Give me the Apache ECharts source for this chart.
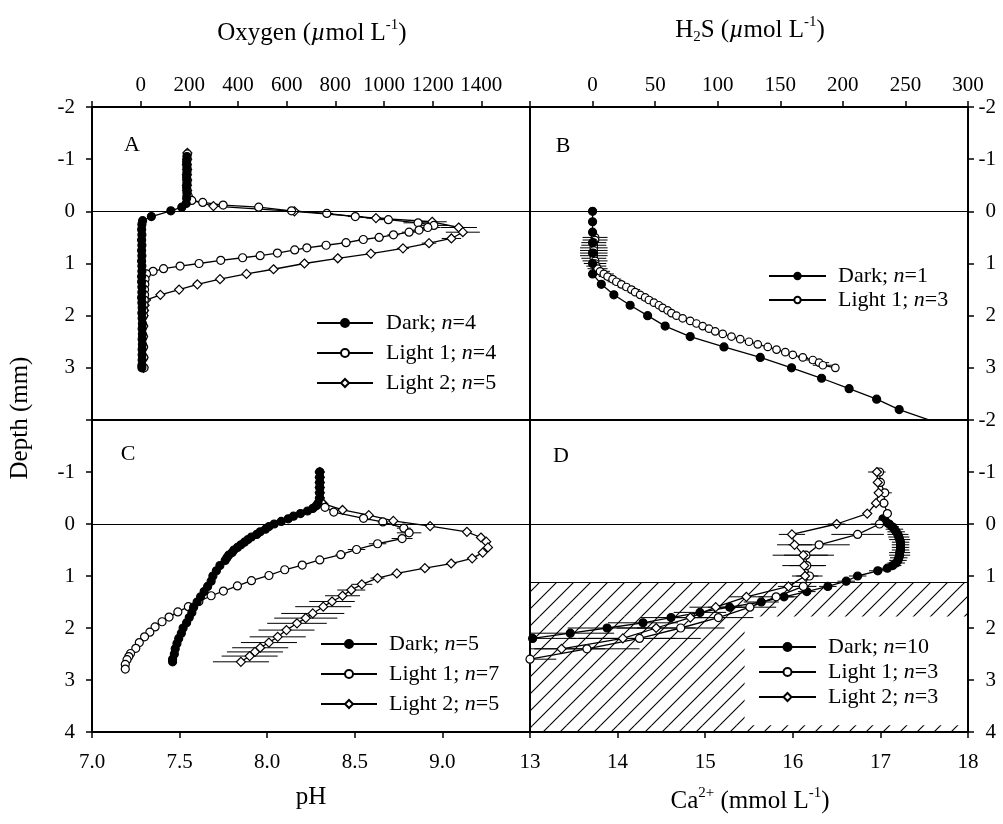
<!DOCTYPE html>
<html><head><meta charset="utf-8">
<script src="https://cdn.jsdelivr.net/npm/echarts@6/dist/echarts.min.js"></script>
<style>html,body{margin:0;padding:0;background:#fff}#c{width:1003px;height:824px}</style>
</head><body><div id="c"></div>
<script>
// ---------- DATA: rows are [depth (mm), value, horizontal error] ----------
// Panel A: oxygen (umol L-1)
const aDark = [[-1.05,190,0],[-0.95,189,0],[-0.85,190,0],[-0.75,190,0],[-0.65,189,0],[-0.55,190,0],[-0.45,189,0],[-0.35,190,0],[-0.25,189,0],[-0.15,187,0],[-0.08,169,0],[-0.01,124,0],[0.1,44,0],[0.18,8,0],
 [0.25,5,8],[0.35,4,8],[0.45,5,8],[0.55,4,8],[0.65,5,8],[0.75,4,8],[0.85,5,8],[0.95,4,8],[1.05,5,8],[1.15,5,8],[1.25,4,8],[1.35,4,8],[1.45,5,8],[1.55,5,8],[1.65,4,8],[1.75,5,8],[1.85,6,8],[1.95,5,8],[2.05,6,8],[2.15,7,10],[2.25,6,10],[2.35,7,10],[2.45,6,10],[2.55,7,10],[2.65,6,10],[2.75,6,10],[2.85,6,10],[2.95,5,10],[3.0,5,8]];
const aLight1 = [[-1.1,192,0],[-1.0,191,0],[-0.9,190,0],[-0.8,191,0],[-0.7,190,0],[-0.6,191,0],[-0.5,190,0],[-0.4,191,0],[-0.3,195,0],[-0.21,210,10],[-0.17,255,10],[-0.12,339,10],[-0.08,485,15],[-0.01,620,20],[0.04,765,25],[0.10,882,30],[0.16,1018,50],[0.22,1140,60],[0.27,1205,60],[0.31,1180,50],[0.36,1144,40],[0.40,1103,30],[0.45,1039,25],[0.50,980,20],[0.54,915,20],[0.60,844,20],[0.65,762,20],[0.70,683,15],[0.74,633,15],[0.80,562,15],[0.85,491,15],[0.89,419,15],[0.94,329,15],[1.00,240,10],[1.05,162,10],[1.10,94,10],[1.15,51,10],[1.20,24,8],[1.3,18,8],[1.4,17,8],[1.5,16,8],[1.6,16,8],[1.7,15,8],[1.8,14,8],[1.9,13,8],[2.0,12,8],[2.2,11,8],[2.4,11,8],[2.6,12,8],[2.8,13,8],[3.0,14,8]];
const aLight2 = [[-1.12,192,0],[-1.0,191,0],[-0.9,190,0],[-0.8,191,0],[-0.7,190,0],[-0.6,191,0],[-0.5,190,0],[-0.4,191,0],[-0.3,192,0],[-0.22,203,10],[-0.1,299,15],[0.0,632,25],[0.13,967,40],[0.2,1198,60],[0.31,1307,75],[0.40,1324,70],[0.52,1277,40],[0.61,1185,30],[0.71,1078,25],[0.81,946,20],[0.9,810,20],[1.0,673,15],[1.11,546,15],[1.2,435,15],[1.3,326,12],[1.4,233,12],[1.5,158,10],[1.6,81,10],[1.7,22,8],[1.8,16,8],[1.9,14,8],[2.0,12,8],[2.2,11,8],[2.4,10,8],[2.6,10,8],[2.8,11,8],[3.0,11,8]];
// Panel B: H2S (umol L-1)
const bDark = [[0,0,0],[0.2,0,0],[0.4,0,0],[0.6,0,0],[0.8,0,0],[1.0,0,0],[1.2,0,0],[1.4,7,0],[1.6,17,0],[1.8,30,0],[2.0,44,0],[2.2,58,0],[2.4,78,0],[2.6,105,0],[2.8,134,0],[3.0,159,0],[3.2,183,0],[3.4,205,0],[3.6,227,0],[3.8,245,0],[4.05,275,0]];
const bLight1 = [[0.5,2,10],[0.55,2,10],[0.6,1,10],[0.65,1,10],[0.7,1,11],[0.75,1,11],[0.8,1,11],[0.85,1,11],[0.9,1,10],[0.95,2,10],[1.0,2,9],[1.05,3,8],[1.1,4,8],[1.15,6,8],[1.2,9,8],[1.25,12,7],[1.3,16,7],[1.35,19,7],[1.4,23,7],[1.45,27,7],[1.5,31,7],[1.55,34,6],[1.6,38,6],[1.65,42,6],[1.7,45,6],[1.75,49,6],[1.8,53,5],[1.85,56,5],[1.9,60,5],[1.95,63,5],[2.0,67,4],[2.05,72,3],[2.1,78,3],[2.15,83,3],[2.2,88,3],[2.25,93,3],[2.3,98,3],[2.35,104,3],[2.4,111,3],[2.45,118,3],[2.5,125,3],[2.55,132,3],[2.6,140,3],[2.65,147,3],[2.7,154,3],[2.75,160,3],[2.8,168,4],[2.85,176,6],[2.9,181,8],[2.95,184,8],[3.0,194,3]];
// Panel C: pH
const cDark = [[-1.0,8.30,0],[-0.9,8.30,0],[-0.8,8.30,0],[-0.7,8.30,0],[-0.6,8.30,0],[-0.5,8.30,0],[-0.4,8.29,0],[-0.35,8.28,0],[-0.3,8.26,0],[-0.25,8.23,0],[-0.2,8.19,0],[-0.15,8.15,0],[-0.1,8.12,0],[-0.05,8.08,0],[0.0,8.04,0],[0.05,8.01,0],[0.1,7.99,0],[0.15,7.96,0],[0.2,7.94,0],[0.25,7.91,0],[0.3,7.89,0],[0.35,7.87,0],[0.4,7.85,0],[0.45,7.83,0],[0.5,7.81,0],[0.55,7.80,0],[0.6,7.78,0],[0.65,7.77,0],[0.7,7.76,0],[0.8,7.73,0],[0.9,7.71,0],[1.0,7.69,0],[1.1,7.68,0],[1.2,7.66,0],[1.3,7.64,0],[1.4,7.62,0],[1.5,7.60,0],[1.6,7.58,0],[1.7,7.57,0],[1.8,7.555,0],[1.9,7.54,0],[2.0,7.52,0],[2.1,7.51,0],[2.2,7.495,0],[2.3,7.485,0],[2.4,7.475,0],[2.5,7.47,0],[2.6,7.46,0],[2.65,7.46,0]];
const cLight1 = [[-1.0,8.30,0],[-0.9,8.30,0],[-0.8,8.30,0],[-0.7,8.30,0],[-0.6,8.30,0],[-0.5,8.30,0],[-0.4,8.31,0],[-0.32,8.33,0],[-0.23,8.38,0.02],[-0.11,8.55,0.02],[-0.04,8.66,0.03],[0.08,8.78,0.04],[0.17,8.81,0.07],[0.28,8.77,0.06],[0.38,8.63,0.05],[0.49,8.51,0.05],[0.59,8.42,0.03],[0.69,8.30,0.02],[0.79,8.20,0.02],[0.88,8.10,0.02],[0.99,8.01,0.02],[1.09,7.91,0.02],[1.19,7.83,0.02],[1.29,7.75,0.02],[1.38,7.68,0.02],[1.49,7.61,0.02],[1.59,7.55,0],[1.69,7.49,0],[1.79,7.44,0],[1.88,7.40,0],[1.98,7.36,0],[2.08,7.33,0],[2.17,7.30,0],[2.28,7.27,0],[2.39,7.25,0],[2.49,7.22,0],[2.55,7.21,0],[2.61,7.20,0],[2.7,7.19,0],[2.79,7.19,0]];
const cLight2 = [[-1.0,8.30,0],[-0.9,8.30,0],[-0.8,8.30,0],[-0.7,8.30,0],[-0.6,8.30,0],[-0.5,8.30,0],[-0.39,8.32,0],[-0.27,8.43,0],[-0.17,8.58,0],[-0.06,8.72,0],[0.04,8.93,0],[0.15,9.14,0],[0.26,9.22,0.02],[0.34,9.25,0.02],[0.45,9.26,0.02],[0.55,9.23,0.02],[0.66,9.17,0.03],[0.76,9.05,0.03],[0.85,8.90,0.03],[0.95,8.74,0.03],[1.04,8.63,0.04],[1.16,8.54,0.06],[1.27,8.48,0.08],[1.38,8.43,0.1],[1.49,8.37,0.13],[1.59,8.32,0.16],[1.72,8.26,0.18],[1.81,8.22,0.18],[1.91,8.17,0.17],[2.04,8.11,0.16],[2.17,8.06,0.16],[2.28,8.01,0.16],[2.38,7.96,0.16],[2.46,7.93,0.16],[2.54,7.90,0.16],[2.65,7.85,0.16]];
// Panel D: Ca2+ (mmol L-1)
const dDark = [[-0.1,17.03,0.05],[-0.05,17.06,0.06],[0.0,17.10,0.08],[0.05,17.13,0.08],[0.1,17.16,0.1],[0.15,17.18,0.1],[0.2,17.20,0.12],[0.25,17.21,0.12],[0.3,17.22,0.12],[0.35,17.23,0.1],[0.4,17.23,0.1],[0.45,17.23,0.1],[0.5,17.23,0.1],[0.55,17.22,0.12],[0.6,17.22,0.12],[0.65,17.21,0.1],[0.7,17.20,0.1],[0.75,17.18,0.1],[0.8,17.14,0.1],[0.85,17.08,0.1],[0.9,16.97,0.1],[1.0,16.74,0.1],[1.1,16.61,0.1],[1.2,16.40,0.1],[1.3,16.16,0.1],[1.4,15.90,0.15],[1.5,15.64,0.2],[1.6,15.28,0.25],[1.7,14.94,0.3],[1.8,14.61,0.35],[1.9,14.29,0.4],[2.0,13.88,0.45],[2.1,13.46,0.5],[2.2,13.03,0.5]];
const dLight1 = [[-1.0,16.99,0.05],[-0.8,17.0,0.05],[-0.6,17.05,0.08],[-0.4,17.04,0.05],[-0.2,17.08,0.05],[0.0,16.99,0.1],[0.2,16.74,0.3],[0.4,16.30,0.35],[0.6,16.15,0.25],[0.8,16.16,0.2],[1.0,16.19,0.15],[1.2,16.12,0.15],[1.4,15.81,0.2],[1.6,15.51,0.3],[1.8,15.15,0.4],[2.0,14.72,0.5],[2.2,14.25,0.7],[2.4,13.65,0.6],[2.6,13.0,0.3]];
const dLight2 = [[-1.0,16.96,0.1],[-0.8,16.97,0.05],[-0.6,16.98,0.05],[-0.4,16.95,0.05],[-0.2,16.85,0.05],[0.0,16.50,0.1],[0.2,15.99,0.15],[0.4,16.02,0.2],[0.6,16.12,0.35],[0.8,16.13,0.25],[1.0,16.14,0.15],[1.2,15.95,0.12],[1.4,15.47,0.2],[1.6,15.12,0.3],[1.8,14.83,0.4],[2.0,14.44,0.45],[2.2,14.06,0.6],[2.4,13.36,0.5]];
// Hatched (sediment) region in D: [depth top, depth legend-top, Ca at legend-left, depth legend-bottom]
const dHatch = [1.12, 1.78, 15.45, 3.87];
const legendA = ['Dark; n=4','Light 1; n=4','Light 2; n=5'];
const legendB = ['Dark; n=1','Light 1; n=3'];
const legendC = ['Dark; n=5','Light 1; n=7','Light 2; n=5'];
const legendD = ['Dark; n=10','Light 1; n=3','Light 2; n=3'];

// ---------- CHART ----------
const FONT = 'Liberation Serif';
const chart = echarts.init(document.getElementById('c'), null, {renderer:'canvas'});

const hc = document.createElement('canvas'); hc.width = 17; hc.height = 17;
const hg = hc.getContext('2d'); hg.strokeStyle = '#000'; hg.lineWidth = 1.1;
hg.beginPath(); hg.moveTo(0,17); hg.lineTo(17,0); hg.moveTo(-2,2); hg.lineTo(2,-2); hg.moveTo(15,19); hg.lineTo(19,15); hg.stroke();
const hatch = {image: hc, repeat: 'repeat'};

function lineS(name, arr, i, sym, size, fill, extra) {
  return Object.assign({
    name, type:'line', xAxisIndex:i, yAxisIndex:i,
    data: arr.map(r => [r[1], r[0]]),
    symbol: sym, symbolSize: size, showSymbol:true, showAllSymbol:true,
    lineStyle:{color:'#000', width:1.3},
    itemStyle:{color: fill, borderColor:'#000', borderWidth:1.2},
    emphasis:{disabled:true}, clip:true, z:3
  }, extra || {});
}
function errS(arr, i) {
  return {
    type:'custom', xAxisIndex:i, yAxisIndex:i, clip:true, silent:true, z:2,
    data: arr.filter(r => r[2] > 0).map(r => [r[1], r[0], r[2]]),
    renderItem: (p, api) => {
      const v = api.value(0), d = api.value(1), e = api.value(2);
      const a = api.coord([v - e, d]), b = api.coord([v + e, d]);
      return {type:'line', shape:{x1:a[0], y1:a[1], x2:b[0], y2:b[1]}, style:{stroke:'#000', lineWidth:1}};
    }
  };
}
function zeroLine(depths) {
  return {silent:true, symbol:['none','none'], label:{show:false}, animation:false,
    lineStyle:{color:'#000', width:1, type:'solid'}, data: depths.map(d => ({yAxis:d}))};
}
function axis(extra, label) {
  return Object.assign({
    type:'value', axisLine:{show:false, onZero:false}, splitLine:{show:false},
    axisTick:{show:true, length:6, lineStyle:{color:'#000', width:1.5}},
    axisLabel:Object.assign({fontFamily:FONT, fontSize:21, color:'#000'}, label)
  }, extra);
}
function legendCfg(names, left, top, gap, w, h, pad) {
  return {data:names, orient:'vertical', left, top, itemGap:gap, itemWidth:w, itemHeight:h,
    padding:0, selectedMode:false,
    formatter: n => n.replace('n=', '{i|n}='),
    textStyle:{fontFamily:FONT, fontSize:22, color:'#000', padding:[0,0,0,pad],
      rich:{i:{fontStyle:'italic', fontFamily:FONT, fontSize:22, color:'#000'}}}};
}
const grid = (l, t, h) => ({left:l, top:t, width:438, height:h, show:true, borderColor:'#000', borderWidth:2, containLabel:false});
const hideVals = (list, fmt) => v => list.some(x => Math.abs(x - v) < 1e-6) ? '' : (fmt ? fmt(v) : String(v));

const tok = {fontFamily:FONT, fontSize:25, fill:'#000', lineHeight:30};
const richT = {
  t: tok,
  i: Object.assign({}, tok, {fontStyle:'italic'}),
  sup: {fontFamily:FONT, fontSize:15, fill:'#000', verticalAlign:'top', lineHeight:30},
  sub: {fontFamily:FONT, fontSize:15, fill:'#000', verticalAlign:'bottom', lineHeight:30}
};
function txt(x, y, text, size, rot) {
  return {type:'text', x, y, rotation: rot || 0, silent:true,
    style:{text, fontFamily:FONT, fontSize:size, fill:'#000', align:'center', verticalAlign:'middle', rich:richT}};
}

const option = {
  animation:false,
  backgroundColor:'#fff',
  grid:[grid(92,107,313), grid(530,107,313), grid(92,420,312), grid(530,420,312)],
  xAxis:[
    axis({gridIndex:0, position:'top', min:-200, max:1600, interval:200}, {margin:11, formatter:hideVals([-200,1600])}),
    axis({gridIndex:1, position:'top', min:-50, max:300, interval:50}, {margin:11, formatter:hideVals([-50])}),
    axis({gridIndex:2, position:'bottom', min:7, max:9.5, interval:0.5}, {margin:20, formatter:hideVals([9.5], v => v.toFixed(1))}),
    axis({gridIndex:3, position:'bottom', min:13, max:18, interval:1}, {margin:20})
  ],
  yAxis:[
    axis({gridIndex:0, position:'left', inverse:true, min:-2, max:4, interval:1}, {margin:17, formatter:hideVals([4])}),
    axis({gridIndex:1, position:'right', inverse:true, min:-2, max:4, interval:1}, {margin:28, align:'right', formatter:hideVals([4])}),
    axis({gridIndex:2, position:'left', inverse:true, min:-2, max:4, interval:1}, {margin:17, formatter:hideVals([-2])}),
    axis({gridIndex:3, position:'right', inverse:true, min:-2, max:4, interval:1}, {margin:28, align:'right'})
  ],
  legend:[
    legendCfg(legendA, 316, 312, 8, 56, 10, 8),
    legendCfg(legendB, 768, 265, 2, 57, 8, 7),
    legendCfg(legendC, 320, 633, 8, 56, 10, 7),
    legendCfg(legendD, 758, 636, 3, 57, 10, 7)
  ],
  graphic:[
    txt(312, 33, '{t|Oxygen (}{i|\u00b5}{t|mol L}{sup|-1}{t|)}', 25),
    txt(750, 30, '{t|H}{sub|2}{t|S (}{i|\u00b5}{t|mol L}{sup|-1}{t|)}', 25),
    txt(311, 797, '{t|pH}', 25),
    txt(750, 801, '{t|Ca}{sup|2+}{t| (mmol L}{sup|-1}{t|)}', 25),
    txt(20, 418, '{t|Depth (mm)}', 25, Math.PI/2),
    txt(132, 145, 'A', 22), txt(563, 146, 'B', 22), txt(128, 454, 'C', 22), txt(561, 456, 'D', 22)
  ],
  series:[
    errS(aDark,0), errS(aLight1,0), errS(aLight2,0),
    lineS(legendA[2], aLight2, 0, 'diamond', 9, '#fff'),
    lineS(legendA[1], aLight1, 0, 'circle', 8, '#fff'),
    lineS(legendA[0], aDark, 0, 'circle', 8, '#000', {markLine: zeroLine([0])}),

    errS(bLight1,1),
    lineS(legendB[1], bLight1, 1, 'circle', 7.5, '#fff'),
    lineS(legendB[0], bDark, 1, 'circle', 8, '#000', {markLine: zeroLine([0])}),

    errS(cLight1,2), errS(cLight2,2),
    lineS(legendC[2], cLight2, 2, 'diamond', 9, '#fff'),
    lineS(legendC[1], cLight1, 2, 'circle', 8, '#fff'),
    lineS(legendC[0], cDark, 2, 'circle', 8, '#000', {markLine: zeroLine([0])}),

    errS(dDark,3), errS(dLight1,3), errS(dLight2,3),
    lineS(legendD[0], dDark, 3, 'circle', 8, '#000', {
      markLine: zeroLine([0, dHatch[0]]),
      markArea: {silent:true, itemStyle:{color:hatch, borderWidth:0}, label:{show:false},
        data:[
          [{xAxis:13, yAxis:dHatch[0]}, {xAxis:18, yAxis:dHatch[1]}],
          [{xAxis:13, yAxis:dHatch[1]}, {xAxis:dHatch[2], yAxis:dHatch[3]}],
          [{xAxis:13, yAxis:dHatch[3]}, {xAxis:18, yAxis:4}]
        ]}
    }),
    lineS(legendD[1], dLight1, 3, 'circle', 8, '#fff'),
    lineS(legendD[2], dLight2, 3, 'diamond', 9, '#fff')
  ]
};
chart.setOption(option);
</script></body></html>
